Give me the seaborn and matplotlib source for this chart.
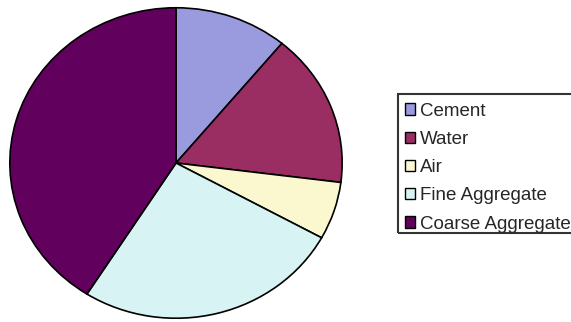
import seaborn as sns
import matplotlib.pyplot as plt
from matplotlib.patches import Patch, Rectangle

# Concrete mix proportions (by volume, %)
components = ["Cement", "Water", "Air", "Fine Aggregate", "Coarse Aggregate"]
shares = [11, 16, 6, 26, 41]
colors = ["#9a9ade", "#9a2d62", "#fbf8cf", "#d8f3f3", "#62005e"]

sns.set_style("white")
plt.rcParams['font.family'] = ['Liberation Sans', 'DejaVu Sans']

fig = plt.figure(figsize=(5.71, 3.22), dpi=100)
ax = fig.add_axes([9 / 571, 3 / 322, 334 / 571, 312 / 322])

ax.pie(shares, colors=colors, startangle=90, counterclock=False,
       wedgeprops={"edgecolor": "black", "linewidth": 1.2})
ax.set_aspect("auto")
ax.set_xlim(-1.005, 1.005)
ax.set_ylim(-1.005, 1.005)
ax.axis("off")

# legend box (runs off the right edge like the original)
fig.patches.append(Rectangle((398 / 571, 1 - 233 / 322), 185 / 571, 139 / 322,
                             transform=fig.transFigure, fill=False,
                             edgecolor="#333333", linewidth=1.5))

handles = [Patch(facecolor=c, edgecolor="black", linewidth=1.0) for c in colors]
fig.legend(handles, components, loc="upper left",
           bbox_to_anchor=(398 / 571, 1 - 96 / 322),
           fontsize=13.5, handlelength=0.55, handleheight=0.55,
           handletextpad=0.25, labelspacing=0.6, borderpad=0.35,
           borderaxespad=0, frameon=False)

plt.savefig("out.png", dpi=100)
